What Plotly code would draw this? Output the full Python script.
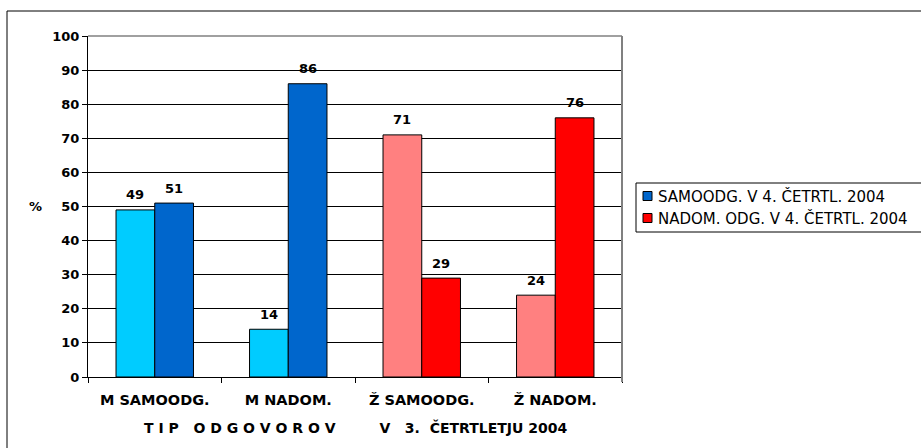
import plotly.graph_objects as go

# Data
categories = ["M SAMOODG.", "M NADOM.", "Ž SAMOODG.", "Ž NADOM."]
q3_values = [49, 14, 71, 24]
q4_values = [51, 86, 29, 76]
q3_colors = ["#00CCFF", "#00CCFF", "#FF8080", "#FF8080"]
q4_colors = ["#0066CC", "#0066CC", "#FF0000", "#FF0000"]
legend_names = ["SAMOODG. V 4. ČETRTL. 2004", "NADOM. ODG. V 4. ČETRTL. 2004"]
legend_colors = ["#0066CC", "#FF0000"]
y_ticks = list(range(0, 101, 10))

FONT = "DejaVu Sans"
W, H = 921, 448
ML, MR, MT, MB = 88, 299, 36, 71
PW = W - ML - MR
PH = H - MT - MB
BARGAP = 0.42
NBSP = "\u00a0"


def px_x(x):
    """pixel column -> paper x"""
    return (x - ML) / PW


def px_y(y):
    """pixel row -> paper y"""
    return (H - MB - y) / PH


fig = go.Figure()
fig.add_trace(go.Bar(x=categories, y=q3_values, marker=dict(color=q3_colors, line=dict(color="black", width=1)),
                     showlegend=False, hoverinfo="x+y"))
fig.add_trace(go.Bar(x=categories, y=q4_values, marker=dict(color=q4_colors, line=dict(color="black", width=1)),
                     showlegend=False, hoverinfo="x+y"))

# value labels above the bars
half = (1 - BARGAP) / 4
for i, (a, b) in enumerate(zip(q3_values, q4_values)):
    for xoff, v in ((-half, a), (half, b)):
        fig.add_annotation(x=i + xoff, y=v, text=str(v), showarrow=False, yanchor="middle", yshift=15,
                           font=dict(family=FONT, size=13, color="black", weight="bold"))

# "%" axis label
fig.add_annotation(xref="paper", yref="paper", x=px_x(35), y=0.5, text="%", showarrow=False,
                   xanchor="center", yanchor="middle", font=dict(family=FONT, size=13, color="black", weight="bold"))

# x-axis title
title_txt = ("T I P" + NBSP * 3 + "O D G O V O R O V" + NBSP * 9 + "V" + NBSP * 3 + "3." + NBSP * 2
             + "ČETRTLETJU 2004").replace(" ", NBSP)
fig.add_annotation(xref="paper", yref="paper", x=0.5, y=px_y(427), text=title_txt, showarrow=False,
                   xanchor="center", yanchor="middle", font=dict(family=FONT, size=14, color="black", weight="bold"))

# outer chart frame
fig.add_shape(type="rect", xref="paper", yref="paper",
              x0=px_x(7), x1=px_x(W + 5), y0=px_y(H + 5), y1=px_y(11),
              line=dict(color="black", width=1), fillcolor="rgba(0,0,0,0)", layer="below")
# grey plot-area border on top and right
fig.add_shape(type="line", xref="paper", yref="paper", x0=0, x1=1, y0=1, y1=1, line=dict(color="#808080", width=1.5))
fig.add_shape(type="line", xref="paper", yref="paper", x0=1, x1=1, y0=px_y(H - MB + 5), y1=1,
              line=dict(color="#808080", width=2))

# legend box
fig.add_shape(type="rect", xref="paper", yref="paper",
              x0=px_x(636), x1=px_x(W + 5), y0=px_y(232), y1=px_y(183),
              line=dict(color="black", width=1), fillcolor="white")
for k, (name, col) in enumerate(zip(legend_names, legend_colors)):
    cy = 196 + 22 * k
    fig.add_shape(type="rect", xref="paper", yref="paper",
                  x0=px_x(643), x1=px_x(652), y0=px_y(cy + 4.5), y1=px_y(cy - 4.5),
                  line=dict(color="black", width=1), fillcolor=col)
    fig.add_annotation(xref="paper", yref="paper", x=px_x(656), y=px_y(cy), text=name, showarrow=False,
                       xanchor="left", yanchor="middle", font=dict(family=FONT, size=15, color="black"))

fig.update_layout(
    width=W, height=H,
    margin=dict(l=ML, r=MR, t=MT, b=MB, pad=0),
    paper_bgcolor="white", plot_bgcolor="white",
    barmode="group", bargap=BARGAP, bargroupgap=0,
    font=dict(family=FONT, color="black"),
    showlegend=False,
    xaxis=dict(showline=True, linecolor="black", linewidth=1, ticks="outside", ticklen=5, tickcolor="black",
               tickson="boundaries", showgrid=False, zeroline=False, ticklabelstandoff=10,
               tickfont=dict(family=FONT, size=14.5, color="black", weight="bold")),
    yaxis=dict(range=[0, 100], tickvals=y_ticks, showline=True, linecolor="black", linewidth=1,
               ticks="outside", ticklen=5, tickcolor="black", showgrid=True, gridcolor="black", gridwidth=1,
               zeroline=False, tickfont=dict(family=FONT, size=13, color="black", weight="bold")),
)

fig.write_html("out.html")
